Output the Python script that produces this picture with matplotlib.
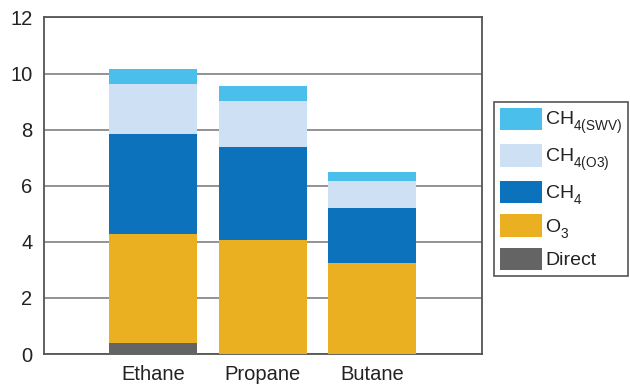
import numpy as np
import matplotlib
matplotlib.use('Agg')
import matplotlib.pyplot as plt

plt.rcParams['font.family'] = ['Liberation Sans', 'DejaVu Sans']
plt.rcParams['mathtext.fontset'] = 'custom'
plt.rcParams['mathtext.rm'] = 'Liberation Sans'
plt.rcParams['mathtext.it'] = 'Liberation Sans'

# push subscripts a bit lower than the mathtext default
try:
    from matplotlib import _mathtext
    _mathtext.FontConstantsBase.sub1 = 0.6
    _mathtext.FontConstantsBase.sub2 = 0.8
except Exception:
    pass

gases = ['Ethane', 'Propane', 'Butane']

# stacked contributions, bottom to top
direct = [0.39, 0.0, 0.0]
o3 = [3.89, 4.07, 3.25]
ch4 = [3.57, 3.31, 1.96]
ch4_o3 = [1.78, 1.64, 0.96]
ch4_swv = [0.53, 0.54, 0.32]

layers = [
    (direct, '#646464', 'Direct'),
    (o3, '#EAB021', r'$\mathrm{O_3}$'),
    (ch4, '#0B72BB', r'$\mathrm{CH_4}$'),
    (ch4_o3, '#CEE0F3', r'$\mathrm{CH_{4(O3)}}$'),
    (ch4_swv, '#4BBFEC', r'$\mathrm{CH_{4(SWV)}}$'),
]

fig = plt.figure(figsize=(6.3, 3.86), dpi=100)
ax = fig.add_axes([0.0694, 0.0829, 0.6952, 0.8718])

x = np.arange(len(gases))
bottom = np.zeros(len(gases))
handles = []
for vals, col, lab in layers:
    b = ax.bar(x, vals, width=0.8, bottom=bottom, color=col, label=lab, zorder=3)
    handles.append(b)
    bottom += np.array(vals)

ax.set_xlim(-1, 3)
ax.set_ylim(0, 12)
ax.set_yticks(np.arange(0, 13, 2))
ax.set_xticks(x)
ax.set_xticklabels(gases)
ax.yaxis.grid(True, color='#8a8a8a', linewidth=1.3, zorder=0)
ax.tick_params(length=0, labelsize=14.5, colors='#222222')
ax.tick_params(axis='y', pad=8)
ax.tick_params(axis='x', pad=8)
for s in ax.spines.values():
    s.set_color('#555555')
    s.set_linewidth(1.3)

leg = fig.legend(handles[::-1], [l[2] for l in layers[::-1]],
                 loc='upper left', bbox_to_anchor=(0.784, 0.736),
                 fontsize=14, handlelength=2.15, handleheight=1.4,
                 labelspacing=0.4, handletextpad=0.18, borderpad=0.3,
                 borderaxespad=0, fancybox=False, framealpha=1)
leg.get_frame().set_edgecolor('#555555')
leg.get_frame().set_linewidth(1.2)
for t in leg.get_texts():
    t.set_color('#222222')

fig.savefig('out.png', dpi=100)
